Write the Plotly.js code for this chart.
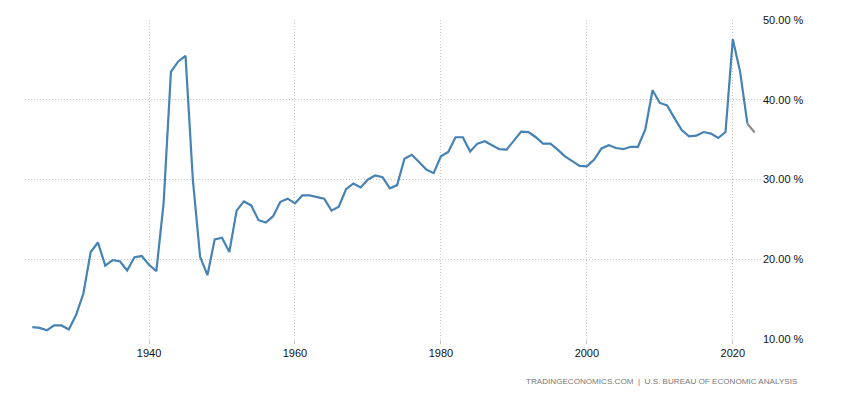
<!DOCTYPE html>
<html>
<head>
<meta charset="utf-8">
<script src="https://cdn.plot.ly/plotly-3.0.1.min.js"></script>
<style>html,body{margin:0;padding:0;background:#fff;}#chart{width:850px;height:400px;}</style>
</head>
<body>
<div id="chart"></div>
<script>
// Years 1924..2022 (actual series) and the last grey segment 2022..2023
const years = [
1924,1925,1926,1927,1928,1929,1930,1931,1932,1933,1934,1935,1936,1937,1938,1939,
1940,1941,1942,1943,1944,1945,1946,1947,1948,1949,1950,1951,1952,1953,1954,1955,
1956,1957,1958,1959,1960,1961,1962,1963,1964,1965,1966,1967,1968,1969,1970,1971,
1972,1973,1974,1975,1976,1977,1978,1979,1980,1981,1982,1983,1984,1985,1986,1987,
1988,1989,1990,1991,1992,1993,1994,1995,1996,1997,1998,1999,2000,2001,2002,2003,
2004,2005,2006,2007,2008,2009,2010,2011,2012,2013,2014,2015,2016,2017,2018,2019,
2020,2021,2022];
const spending = [
11.5,11.4,11.1,11.7,11.7,11.2,13.0,15.7,20.9,22.1,19.2,19.9,19.75,18.6,20.25,20.4,
19.3,18.5,27.1,43.5,44.8,45.5,30.0,20.3,18.0,22.5,22.7,20.9,26.1,27.25,26.75,24.9,
24.6,25.4,27.2,27.6,27.0,28.0,28.0,27.8,27.6,26.1,26.6,28.8,29.5,29.0,30.0,30.5,
30.3,28.9,29.3,32.6,33.1,32.2,31.25,30.8,32.9,33.45,35.3,35.3,33.5,34.5,34.8,34.3,
33.8,33.75,34.9,36.0,35.95,35.3,34.5,34.5,33.75,32.9,32.3,31.7,31.65,32.5,33.9,34.3,
33.95,33.8,34.1,34.1,36.25,41.2,39.6,39.3,37.7,36.2,35.4,35.5,35.95,35.75,35.2,35.95,
47.6,43.5,37.0];
const tailYears = [2022, 2023];
const tailValues = [37.0, 35.9];
const yTicks = [10, 20, 30, 40, 50];
const yTickLabels = ['10.00 %', '20.00 %', '30.00 %', '40.00 %', '50.00 %'];
const xTicks = [1940, 1960, 1980, 2000, 2020];
const xTickLabels = ['1940', '1960', '1980', '2000', '2020'];
const sourceText = 'TRADINGECONOMICS.COM\u00a0\u00a0|\u00a0\u00a0U.S. BUREAU OF ECONOMIC ANALYSIS';

const traces = [
  {x: years, y: spending, type: 'scatter', mode: 'lines',
   line: {color: '#4682b4', width: 2.2}, hoverinfo: 'skip'},
  {x: tailYears, y: tailValues, type: 'scatter', mode: 'lines',
   line: {color: '#8c8c8c', width: 2.2}, hoverinfo: 'skip'}
];
const layout = {
  width: 850, height: 400,
  margin: {l: 25, r: 88, t: 20, b: 61, pad: 0},
  paper_bgcolor: '#fff', plot_bgcolor: '#fff',
  showlegend: false,
  font: {family: 'Liberation Sans, Arial, sans-serif', size: 11, color: '#111'},
  xaxis: {
    range: [1923, 2024], tickmode: 'array', tickvals: xTicks, ticktext: xTickLabels,
    showgrid: true, gridcolor: '#c8c8c8', griddash: '1px,2px', gridwidth: 1,
    zeroline: false, showline: false, ticks: 'outside', ticklen: 4, tickcolor: '#c8c8c8',
    tickfont: {size: 11, color: '#111'}
  },
  yaxis: {
    side: 'right', range: [10, 50], tickmode: 'array', tickvals: yTicks, ticktext: yTickLabels,
    showgrid: true, gridcolor: '#c8c8c8', griddash: '1px,2px', gridwidth: 1,
    zeroline: false, showline: false, ticks: '',
    tickfont: {size: 11, color: '#111'}
  },
  annotations: [{
    text: sourceText, xref: 'paper', yref: 'paper', x: 1.051, y: -0.134,
    xanchor: 'right', yanchor: 'middle', showarrow: false,
    font: {size: 8.1, color: '#777', family: 'Liberation Sans, Arial, sans-serif'}
  }]
};
Plotly.newPlot('chart', traces, layout, {staticPlot: true, displayModeBar: false});
</script>
</body>
</html>
